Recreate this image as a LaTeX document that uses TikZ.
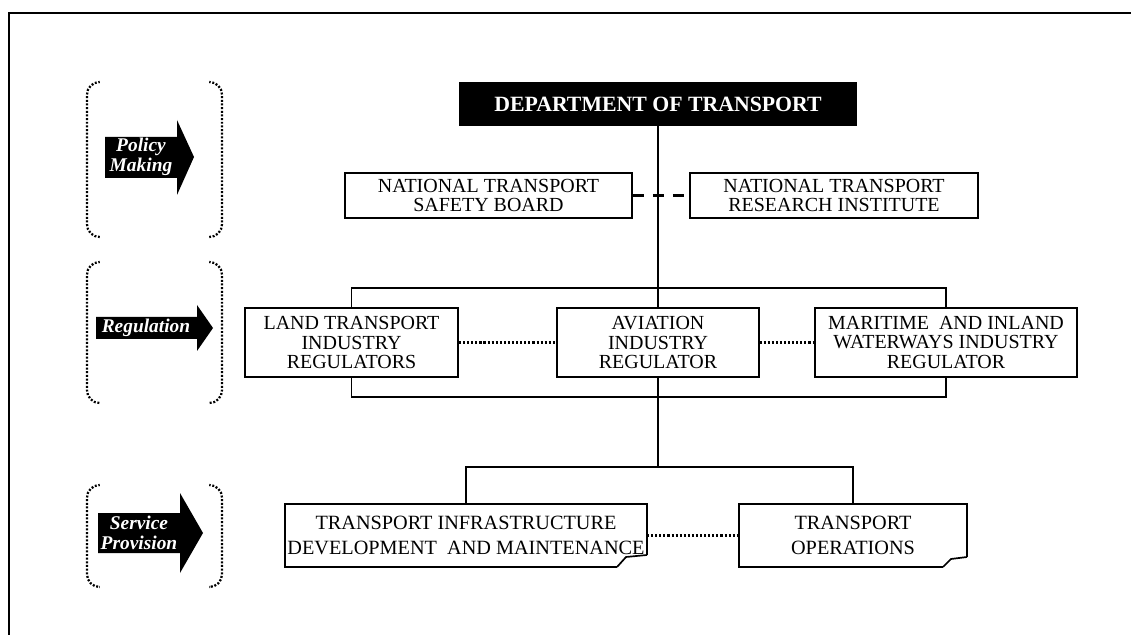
\documentclass[tikz,border=0pt]{standalone}
\usepackage{fontspec}
\setmainfont{Liberation Serif}
\usetikzlibrary{positioning, calc}

\tikzset{
    orgbox/.style={draw=black, line width=1.4pt, fill=white, align=center, inner sep=0pt,
        font=\fontsize{14.2}{14.2}\selectfont},
    headbox/.style={fill=black, text=white, inner sep=0pt,
        font=\fontsize{15.5}{17}\selectfont\bfseries},
    stagetext/.style={text=white, align=center, inner sep=0pt,
        font=\fontsize{13.8}{14.2}\selectfont\bfseries\itshape},
    bracketline/.style={line width=1.6pt, dash pattern=on 1.4pt off 1.2pt, rounded corners=9},
    linkline/.style={line width=1.3pt},
    dotlink/.style={line width=1.6pt, dash pattern=on 1.5pt off 1.4pt},
    dashlink/.style={line width=1.6pt, dash pattern=on 7.8pt off 6.4pt}
}

\begin{document}
\begin{tikzpicture}[x=0.025cm, y=-0.025cm]
    \useasboundingbox (0,0) rectangle (1131,635);

    % Frame
    \draw [line width=2pt] (9,635) -- (9,13) -- (1131,13);

    % Stage brackets
    \draw [bracketline] (99,82) -- (87,82) -- (87,237) -- (99,237);
    \draw [bracketline] (210,82) -- (222,82) -- (222,237) -- (210,237);
    \draw [bracketline] (99,262) -- (87,262) -- (87,403) -- (99,403);
    \draw [bracketline] (210,262) -- (222,262) -- (222,403) -- (210,403);
    \draw [bracketline] (99,485) -- (87,485) -- (87,587) -- (99,587);
    \draw [bracketline] (210,485) -- (222,485) -- (222,587) -- (210,587);

    % Stage arrows
    \fill (105,137) -- (177,137) -- (177,120) -- (194,157) -- (177,195) -- (177,178) -- (105,178) -- cycle;
    \node [stagetext] (policy) at (141,157) {Policy\\Making};
    \fill (96,317) -- (197,317) -- (197,305) -- (213,328) -- (197,351) -- (197,339) -- (96,339) -- cycle;
    \node [stagetext] (regul) at (146,328) {Regulation};
    \fill (98,513) -- (180,513) -- (180,493) -- (203,533) -- (180,573) -- (180,553) -- (98,553) -- cycle;
    \node [stagetext] (service) at (139,533) {Service\\Provision};

    % Policy making
    \node [headbox, minimum width=9.95cm, minimum height=1.1cm] (dept) at (658,104) {DEPARTMENT OF TRANSPORT};
    \node [orgbox, minimum width=7.175cm, minimum height=1.125cm] (ntsb) at (488.5,195.5) {NATIONAL TRANSPORT\\SAFETY BOARD};
    \node [orgbox, minimum width=7.2cm, minimum height=1.125cm] (ntri) at (834,195.5) {NATIONAL TRANSPORT\\RESEARCH INSTITUTE};

    % Regulation
    \node [orgbox, minimum width=5.325cm, minimum height=1.725cm] (land) at (351.5,342.5) {LAND TRANSPORT\\INDUSTRY\\REGULATORS};
    \node [orgbox, minimum width=5.025cm, minimum height=1.725cm] (avia) at (658,342.5) {AVIATION\\INDUSTRY\\REGULATOR};
    \node [orgbox, minimum width=6.55cm, minimum height=1.725cm] (sea) at (946,342.5) {MARITIME\ \ AND INLAND\\WATERWAYS INDUSTRY\\REGULATOR};

    % Service provision (folded corners)
    \node [orgbox, draw=none, fill=none, font=\fontsize{14.4}{17.5}\selectfont,
        minimum width=9cm, minimum height=1.525cm] (infra) at (466,535.5) {TRANSPORT INFRASTRUCTURE\\DEVELOPMENT\ \ AND MAINTENANCE};
    \node [orgbox, draw=none, fill=none, font=\fontsize{14.4}{17.5}\selectfont,
        minimum width=5.65cm, minimum height=1.525cm] (ops) at (853,535.5) {TRANSPORT\\OPERATIONS};
    \draw [linkline, line width=1.4pt] ($(infra.south east)+(0,-12)$) -- (infra.north east) -- (infra.north west)
        -- (infra.south west) -- ($(infra.south east)+(-30,0)$);
    \draw [linkline, line width=1.2pt] ($(infra.south east)+(-30,0)$) -- ($(infra.south east)+(-21,-10)$)
        -- ($(infra.south east)+(0,-12)$);
    \draw [linkline, line width=1.4pt] ($(ops.south east)+(0,-10)$) -- (ops.north east) -- (ops.north west)
        -- (ops.south west) -- ($(ops.south east)+(-24,0)$);
    \draw [linkline, line width=1.2pt] ($(ops.south east)+(-24,0)$) -- ($(ops.south east)+(-16,-8)$)
        -- ($(ops.south east)+(0,-10)$);

    % Trunk and brackets
    \coordinate (regtop) at (658,288);
    \coordinate (regbot) at (658,397);
    \coordinate (svctop) at (658,467);
    \draw [linkline] (dept.south) -- (avia.north);
    \draw [linkline] (avia.south) -- (svctop);
    \draw [linkline] (land.north) |- (regtop) -| (sea.north);
    \draw [linkline] (land.south) |- (regbot) -| (sea.south);
    \draw [linkline] (infra.north) |- (svctop) -| (ops.north);

    % Links between units
    \draw [dashlink] (ntsb.east) -- (ntri.west);
    \draw [dotlink] (land.east) -- (avia.west);
    \draw [dotlink] (avia.east) -- (sea.west);
    \draw [dotlink] (infra.east) -- (ops.west);

\end{tikzpicture}
\end{document}
